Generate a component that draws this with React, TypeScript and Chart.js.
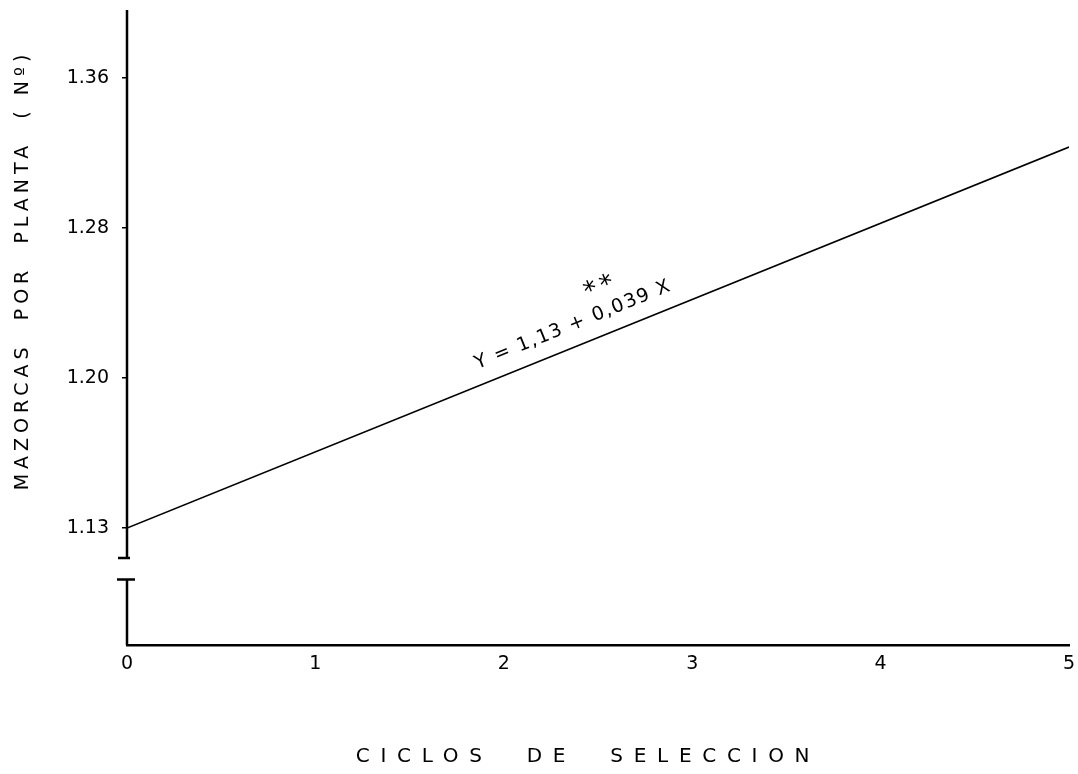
import React, { useEffect, useRef } from 'react';
import { Chart, registerables, LinearScale } from 'chart.js';

Chart.register(...registerables);

// ---- data ----
const cycles = [0, 5];
const fittedEars = [1.13, 1.323];
const xTickLabels = ['0', '1', '2', '3', '4', '5'];
const yTickValues = [1.13, 1.2, 1.28, 1.36];
const yTickLabels = ['1.13', '1.20', '1.28', '1.36'];
const yRange = [1.0755, 1.396];
const axisBreak = [1.106, 1.116];
const equationText = 'Y = 1,13 + 0,039 X';
const significance = '**';
const equationAt = 2.41;
const xTitle = 'CICLOS  DE  SELECCION';
const yTitle = 'MAZORCAS  POR  PLANTA  ( Nº)';

const FONT = '"DejaVu Sans", sans-serif';

// segmented y scale: the hand-drawn axis spaces its labelled ticks evenly
function toK(v: number) {
  const t = yTickValues;
  let i = 0;
  while (i < t.length - 2 && v > t[i + 1]) i++;
  return i + (v - t[i]) / (t[i + 1] - t[i]);
}
function fromK(k: number) {
  const t = yTickValues;
  const i = Math.max(0, Math.min(t.length - 2, Math.floor(k)));
  return t[i] + (k - i) * (t[i + 1] - t[i]);
}
class SegmentedScale extends LinearScale {
  static id = 'segmented';
  getPixelForValue(value: number) {
    const k0 = toK(this.min);
    const k1 = toK(this.max);
    return this.getPixelForDecimal((toK(value) - k0) / (k1 - k0));
  }
  getValueForPixel(pixel: number) {
    const k0 = toK(this.min);
    const k1 = toK(this.max);
    return fromK(k0 + this.getDecimalForPixel(pixel) * (k1 - k0));
  }
}
Chart.register(SegmentedScale as any);

const decorPlugin = {
  id: 'decor',
  afterDraw(chart: any) {
    const { ctx, chartArea } = chart;
    const xs = chart.scales.x;
    const ys = chart.scales.y;
    ctx.save();
    ctx.strokeStyle = '#000';
    ctx.fillStyle = '#000';
    // broken y axis
    const ax = chartArea.left;
    const yBreakTop = ys.getPixelForValue(axisBreak[1]);
    const yBreakBot = ys.getPixelForValue(axisBreak[0]);
    ctx.lineWidth = 2.5;
    ctx.beginPath();
    ctx.moveTo(ax, chartArea.top);
    ctx.lineTo(ax, yBreakTop);
    ctx.moveTo(ax, yBreakBot);
    ctx.lineTo(ax, chartArea.bottom);
    ctx.stroke();
    ctx.beginPath();
    ctx.moveTo(ax - 9, yBreakTop);
    ctx.lineTo(ax + 3, yBreakTop);
    ctx.moveTo(ax - 10, yBreakBot);
    ctx.lineTo(ax + 8, yBreakBot);
    ctx.stroke();

    // regression equation along the line
    const p0x = xs.getPixelForValue(cycles[0]);
    const p0y = ys.getPixelForValue(fittedEars[0]);
    const p1x = xs.getPixelForValue(cycles[1]);
    const p1y = ys.getPixelForValue(fittedEars[1]);
    const ang = Math.atan2(p1y - p0y, p1x - p0x);
    const t = (equationAt - cycles[0]) / (cycles[1] - cycles[0]);
    const cx = p0x + t * (p1x - p0x);
    const cy = p0y + t * (p1y - p0y);
    ctx.translate(cx, cy);
    ctx.rotate(ang);
    ctx.font = `19px ${FONT}`;
    ctx.textAlign = 'center';
    ctx.textBaseline = 'middle';
    (ctx as any).letterSpacing = '1.5px';
    ctx.fillText(equationText, 0, -21);
    ctx.font = `26px ${FONT}`;
    ctx.textBaseline = 'alphabetic';
    (ctx as any).letterSpacing = '4px';
    ctx.fillText(significance, 40, -38);
    ctx.restore();

    // axis titles
    ctx.save();
    ctx.fillStyle = '#000';
    ctx.font = `20px ${FONT}`;
    ctx.textAlign = 'center';
    ctx.textBaseline = 'middle';
    (ctx as any).letterSpacing = '10.7px';
    ctx.fillText(xTitle, 583 + 5, 757);
    ctx.restore();

    ctx.save();
    ctx.fillStyle = '#000';
    ctx.font = `19px ${FONT}`;
    ctx.textAlign = 'center';
    ctx.textBaseline = 'middle';
    (ctx as any).letterSpacing = '5px';
    ctx.translate(23, 270);
    ctx.rotate(-Math.PI / 2);
    ctx.fillText(yTitle, 0, 0);
    ctx.restore();
  },
};

export default function App() {
  const ref = useRef<HTMLCanvasElement | null>(null);
  useEffect(() => {
    if (!ref.current) return;
    const chart = new Chart(ref.current, {
      type: 'line',
      data: {
        datasets: [
          {
            data: cycles.map((x, i) => ({ x, y: fittedEars[i] })),
            borderColor: '#000',
            borderWidth: 1.6,
            pointRadius: 0,
            tension: 0,
            fill: false,
          },
        ],
      },
      options: {
        animation: false,
        responsive: false,
        maintainAspectRatio: false,
        layout: { padding: { top: 10, right: 9, left: 0, bottom: 0 } },
        plugins: { legend: { display: false }, tooltip: { enabled: false }, title: { display: false } },
        scales: {
          x: {
            type: 'linear',
            min: 0,
            max: 5,
            afterFit: (s: any) => {
              s.height = 129;
              s.paddingLeft = 0;
              s.paddingRight = 0;
            },
            afterBuildTicks: (s: any) => {
              s.ticks = xTickLabels.map((_, i) => ({ value: i }));
            },
            grid: { display: false },
            border: { display: true, color: '#000', width: 2.5 },
            ticks: {
              color: '#000',
              padding: 0,
              maxRotation: 0,
              font: { family: FONT, size: 19 },
              callback: (_v: any, i: number) => xTickLabels[i],
            },
          },
          y: {
            type: 'segmented' as any,
            position: 'left',
            min: yRange[0],
            max: yRange[1],
            afterFit: (s: any) => {
              s.width = 127;
              s.paddingTop = 0;
              s.paddingBottom = 0;
            },
            afterBuildTicks: (s: any) => {
              s.ticks = yTickValues.map((v) => ({ value: v }));
            },
            grid: {
              display: true,
              drawOnChartArea: false,
              drawTicks: true,
              tickLength: 5,
              color: '#000',
              lineWidth: 1.5,
            },
            border: { display: false },
            ticks: {
              color: '#000',
              padding: 13,
              font: { family: FONT, size: 19 },
              callback: (_v: any, i: number) => yTickLabels[i],
            },
          },
        },
      } as any,
      plugins: [decorPlugin],
    });
    return () => chart.destroy();
  }, []);
  return (
    <div style={{ position: 'fixed', left: 0, top: 0, width: 1078, height: 774, background: '#fff' }}>
      <canvas ref={ref} width={1078} height={774} style={{ display: 'block' }} />
    </div>
  );
}
